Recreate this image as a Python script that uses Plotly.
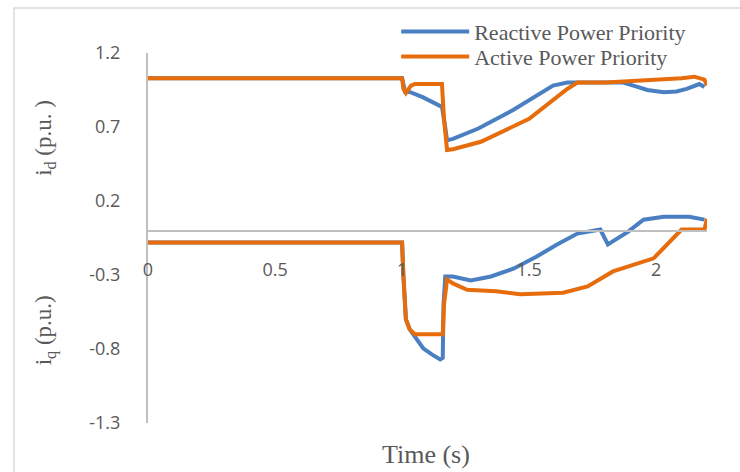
import plotly.graph_objects as go

# ---- data ----
t_id_reactive = [0, 1.0, 1.012, 1.03, 1.083, 1.157, 1.168, 1.177, 1.2, 1.3, 1.437, 1.52, 1.594, 1.65, 1.75, 1.87, 1.92, 1.965, 2.03, 2.08, 2.12, 2.17, 2.19]
id_reactive = [1.03, 1.03, 0.937, 0.937, 0.90, 0.836, 0.72, 0.61, 0.62, 0.69, 0.815, 0.9, 0.98, 1.0, 1.0, 1.0, 0.975, 0.95, 0.935, 0.94, 0.957, 0.99, 0.97]

t_id_active = [0, 1.0, 1.005, 1.015, 1.035, 1.05, 1.157, 1.165, 1.177, 1.2, 1.31, 1.5, 1.65, 1.69, 1.8, 1.99, 2.1, 2.15, 2.19, 2.2]
id_active = [1.03, 1.03, 0.96, 0.93, 0.98, 0.99, 0.99, 0.75, 0.545, 0.55, 0.6, 0.755, 0.957, 1.0, 1.0, 1.017, 1.03, 1.04, 1.02, 0.98]

t_iq_reactive = [0, 1.0, 1.005, 1.015, 1.03, 1.083, 1.12, 1.15, 1.16, 1.163, 1.17, 1.2, 1.27, 1.35, 1.44, 1.53, 1.61, 1.69, 1.78, 1.81, 1.89, 1.95, 2.03, 2.13, 2.19]
iq_reactive = [-0.08, -0.08, -0.3, -0.6, -0.667, -0.795, -0.84, -0.87, -0.86, -0.5, -0.31, -0.31, -0.337, -0.31, -0.256, -0.175, -0.094, -0.02, 0.007, -0.094, -0.007, 0.074, 0.094, 0.094, 0.074]

t_iq_active = [0, 1.0, 1.005, 1.015, 1.03, 1.05, 1.16, 1.165, 1.177, 1.2, 1.256, 1.37, 1.465, 1.634, 1.73, 1.83, 1.99, 2.07, 2.1, 2.19, 2.2]
iq_active = [-0.08, -0.08, -0.3, -0.6, -0.667, -0.70, -0.70, -0.5, -0.33, -0.357, -0.40, -0.41, -0.43, -0.42, -0.377, -0.276, -0.187, -0.05, 0.007, 0.007, 0.08]

x_ticks = [0, 0.5, 1, 1.5, 2]
x_tick_labels = ["0", "0.5", "1", "1.5", "2"]
y_ticks = [-1.3, -0.8, -0.3, 0.2, 0.7, 1.2]
y_tick_labels = ["-1.3", "-0.8", "-0.3", "0.2", "0.7", "1.2"]

names = ["Reactive Power Priority", "Active Power Priority"]
BLUE = "#4a7fc1"
ORANGE = "#e66c0c"
GRAY_TXT = "#595959"
AXIS = "#bfbfbf"

fig = go.Figure()
fig.add_trace(go.Scatter(x=t_id_reactive, y=id_reactive, mode="lines", name=names[0],
                         line=dict(color=BLUE, width=4), legendgroup="r", legend="legend"))
fig.add_trace(go.Scatter(x=t_iq_reactive, y=iq_reactive, mode="lines", name=names[0],
                         line=dict(color=BLUE, width=4), legendgroup="r", showlegend=False))
fig.add_trace(go.Scatter(x=t_id_active, y=id_active, mode="lines", name=names[1],
                         line=dict(color=ORANGE, width=4), legendgroup="a", legend="legend2"))
fig.add_trace(go.Scatter(x=t_iq_active, y=iq_active, mode="lines", name=names[1],
                         line=dict(color=ORANGE, width=4), legendgroup="a", showlegend=False))

y_min, y_max = -1.3, 1.2
zero_pos = (0 - y_min) / (y_max - y_min)

leg_font = dict(family="Liberation Serif", size=22, color=GRAY_TXT)
fig.update_layout(
    width=740, height=472,
    margin=dict(l=148, r=33, t=52, b=49),
    paper_bgcolor="white", plot_bgcolor="white",
    showlegend=True,
    legend=dict(x=0.444, y=1.055, xanchor="left", yanchor="middle", bgcolor="rgba(0,0,0,0)",
                font=leg_font, itemwidth=68),
    legend2=dict(x=0.444, y=0.987, xanchor="left", yanchor="middle", bgcolor="rgba(0,0,0,0)",
                 font=leg_font, itemwidth=68),
    xaxis=dict(range=[0, 2.2], anchor="free", position=zero_pos,
               showline=True, linecolor=AXIS, linewidth=2,
               showgrid=False, zeroline=False, ticks="",
               tickvals=x_ticks, ticktext=x_tick_labels, ticklabelstandoff=23,
               tickfont=dict(family="Open Sans", size=18, color=GRAY_TXT)),
    yaxis=dict(range=[y_min, y_max], domain=[0, 1],
               showline=True, linecolor=AXIS, linewidth=2,
               showgrid=False, zeroline=False, ticks="",
               tickvals=y_ticks, ticktext=y_tick_labels, ticklabelstandoff=22,
               tickfont=dict(family="Open Sans", size=18, color=GRAY_TXT)),
)

fig.add_annotation(text="Time (s)", xref="paper", yref="paper", x=0.497, y=-0.086,
                   xanchor="center", yanchor="middle",
                   showarrow=False, font=dict(family="Liberation Serif", size=26, color=GRAY_TXT))
fig.add_annotation(text="i<sub>d</sub> (p.u. )", xref="paper", yref="paper", x=-0.184, y=0.771,
                   xanchor="center", yanchor="middle", textangle=-90, showarrow=False,
                   font=dict(family="Liberation Serif", size=23, color=GRAY_TXT))
fig.add_annotation(text="i<sub>q</sub> (p.u.)", xref="paper", yref="paper", x=-0.184, y=0.251,
                   xanchor="center", yanchor="middle", textangle=-90, showarrow=False,
                   font=dict(family="Liberation Serif", size=23, color=GRAY_TXT))

# chart border
fig.add_shape(type="rect", xref="paper", yref="paper", x0=-0.2397, y0=-0.2, x1=1.1, y1=1.1213,
              line=dict(color="#d9d9d9", width=1.5), fillcolor="rgba(0,0,0,0)", layer="below")

fig.write_html("out.html", config={"displayModeBar": False},
               post_script="document.body.style.margin='0';")
